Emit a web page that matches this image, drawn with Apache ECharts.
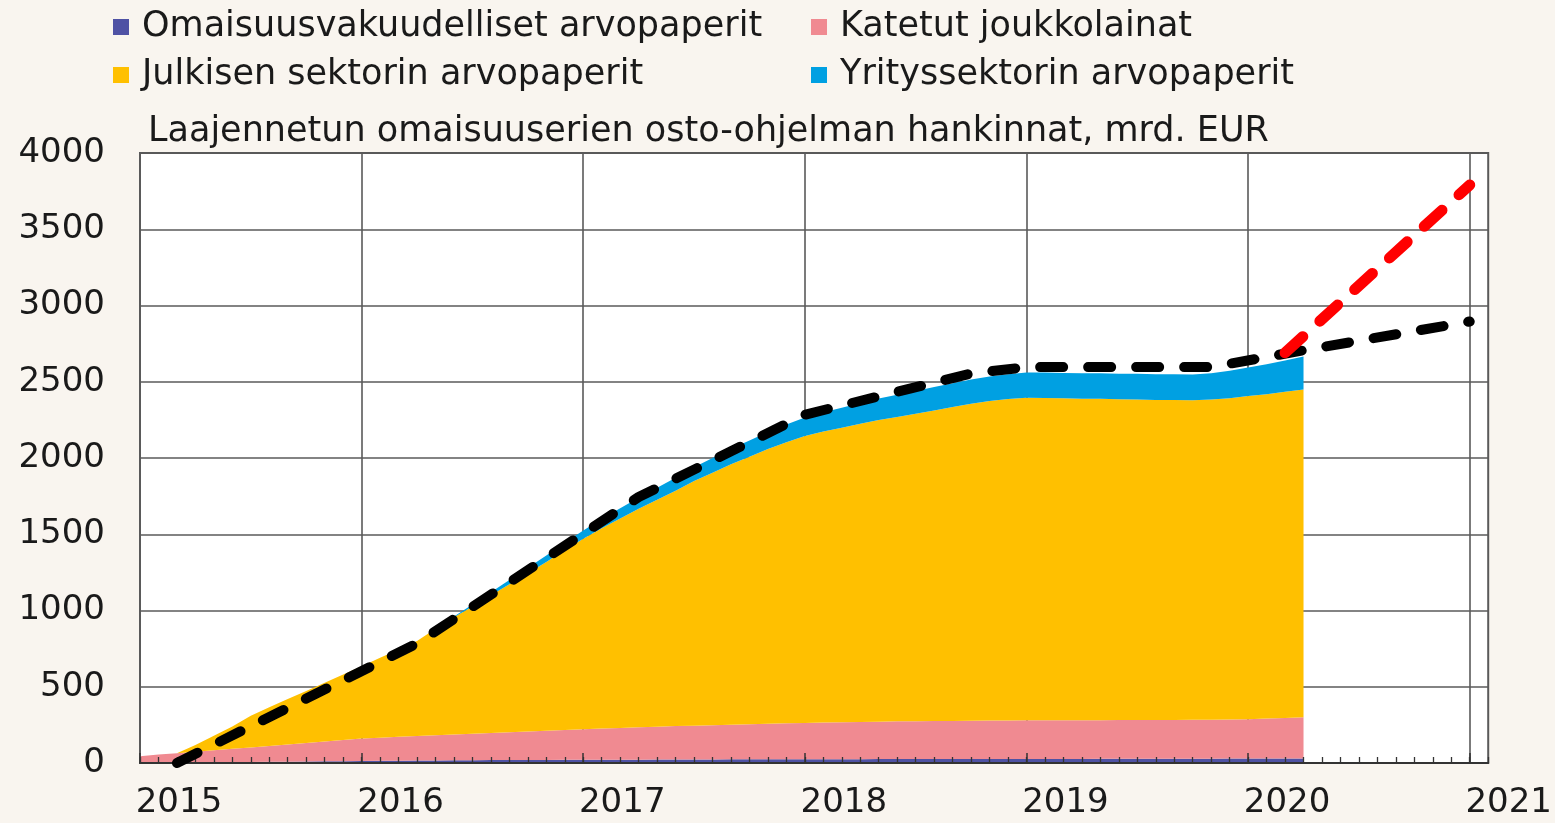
<!DOCTYPE html>
<html><head><meta charset="utf-8">
<script src="https://cdn.jsdelivr.net/npm/echarts@6/dist/echarts.min.js"></script>
<style>html,body{margin:0;padding:0;background:#f9f5ef;}#c{width:1555px;height:823px;}</style>
</head><body><div id="c"></div><script>
// Monthly observation dates (Jan 2015 – Apr 2020)
const months = [
 '2015-01','2015-02','2015-03','2015-04','2015-05','2015-06','2015-07','2015-08','2015-09','2015-10','2015-11','2015-12',
 '2016-01','2016-02','2016-03','2016-04','2016-05','2016-06','2016-07','2016-08','2016-09','2016-10','2016-11','2016-12',
 '2017-01','2017-02','2017-03','2017-04','2017-05','2017-06','2017-07','2017-08','2017-09','2017-10','2017-11','2017-12',
 '2018-01','2018-02','2018-03','2018-04','2018-05','2018-06','2018-07','2018-08','2018-09','2018-10','2018-11','2018-12',
 '2019-01','2019-02','2019-03','2019-04','2019-05','2019-06','2019-07','2019-08','2019-09','2019-10','2019-11','2019-12',
 '2020-01','2020-02','2020-03','2020-04'];
// Remaining axis months up to the right edge of the plot
const extraMonths = ['2020-05','2020-06','2020-07','2020-08','2020-09','2020-10','2020-11','2020-12','2021-01','2021-02'];
// Omaisuusvakuudelliset arvopaperit (ABS)
const absValues = [1,2,3,4,5,6,7,8,9,10,11,12,13,14,15,16,17,18,18,19,19,20,20,21,21,22,22,22,23,23,23,23,24,24,24,24,25,25,25,25,26,26,26,26,26,27,27,27,27,27,27,27,28,28,28,28,28,28,28,29,29,29,30,30];
// Katetut joukkolainat (covered bonds)
const coveredValues = [44,53,61,70,79,87,95,104,113,121,130,139,147,152,157,161,165,169,174,178,183,187,192,196,201,204,208,212,215,219,222,225,227,230,233,236,238,240,242,244,245,247,248,249,250,250,251,252,253,253,254,254,253,254,254,254,254,255,256,256,258,262,265,270];
// Julkisen sektorin arvopaperit (public sector)
const publicValues = [0,0,0,44,94,147,208,253,298,341,386,429,475,524,573,623,698,768,835,903,970,1038,1106,1180,1249,1314,1374,1434,1489,1544,1605,1656,1708,1755,1802,1844,1882,1909,1932,1955,1978,1996,2016,2037,2058,2079,2096,2108,2115,2114,2111,2108,2107,2103,2102,2099,2098,2095,2099,2107,2119,2127,2139,2150];
// Yrityssektorin arvopaperit (corporate sector)
const corporateValues = [0,0,0,0,0,0,0,0,0,0,0,0,0,0,0,0,0,5,13,20,28,35,42,48,54,60,66,72,78,84,90,96,101,106,111,116,120,126,131,136,141,146,150,153,156,159,161,163,165,166,166,167,167,168,168,169,169,170,173,180,188,197,206,215];
// Planned cumulative purchases (black dashed)
const plannedDates = ['2015-03','2016-04','2017-04','2018-01','2018-10','2019-01','2019-11','2020-04','2021-01'];
const plannedValues = [0,784,1744,2284,2554,2596,2596,2706,2895];
// Pandemic programme path (red dashed)
const pepDates = ['2020-03','2021-01'];
const pepValues = [2690,3790];
const yearLabels = ['2015','2016','2017','2018','2019','2020','2021'];
const seriesNames = ['Omaisuusvakuudelliset arvopaperit','Katetut joukkolainat','Julkisen sektorin arvopaperit','Yrityssektorin arvopaperit'];
const titleText = 'Laajennetun omaisuuserien osto-ohjelman hankinnat, mrd. EUR';

const axisMonths = months.concat(extraMonths);
const FONT = 'DejaVu Sans';
const TXT = '#1a1a1a';
const GRIDC = '#5a5a5a';
const isYearStart = (idx) => idx % 12 === 0;

function area(name, values, color){
  return {
    name, type:'line', stack:'app', xAxisIndex:0, yAxisIndex:0,
    symbol:'none', showSymbol:false, lineStyle:{width:0}, z:2,
    areaStyle:{color, opacity:1}, itemStyle:{color},
    data: values.slice()
  };
}
function dashed(dates, values, color, width, pattern, z){
  return {
    type:'line', xAxisIndex:0, yAxisIndex:0, symbol:'none', showSymbol:false, z,
    lineStyle:{color, width, type:pattern, cap:'round', join:'round'},
    data: dates.map((d,i)=>[d, values[i]])
  };
}

const chart = echarts.init(document.getElementById('c'), null, {renderer:'canvas'});
const legendText = {fontFamily:FONT, fontSize:35, color:TXT, lineHeight:36, padding:[0,0,0,8]};
chart.setOption({
  backgroundColor:'#f9f5ef',
  animation:false,
  title:{text:titleText, left:148, top:114, padding:0,
    textStyle:{fontFamily:FONT, fontSize:35, fontWeight:'normal', color:TXT, lineHeight:36}},
  legend:[
    {data:[seriesNames[0], seriesNames[2]], orient:'vertical', left:108, top:4, icon:'rect',
     itemWidth:16, itemHeight:16, itemGap:12, textStyle:legendText, selectedMode:false},
    {data:[seriesNames[1], seriesNames[3]], orient:'vertical', left:806, top:4, icon:'rect',
     itemWidth:16, itemHeight:16, itemGap:12, textStyle:legendText, selectedMode:false}
  ],
  grid:{left:140, right:65, top:153, bottom:58, show:true, backgroundColor:'#ffffff',
    borderColor:GRIDC, borderWidth:2, containLabel:false},
  xAxis:[
    {type:'category', data:axisMonths, boundaryGap:false, position:'bottom', z:0,
     axisLine:{show:false}, axisTick:{show:false},
     splitLine:{show:true, interval:isYearStart, lineStyle:{color:GRIDC, width:1.6}},
     axisLabel:{show:true, interval:isYearStart, margin:20, fontFamily:FONT, fontSize:34, color:TXT, lineHeight:40,
       padding:[0,0,0,78],
       formatter:(v, idx)=> yearLabels[Math.round(idx/12)] }},
    {type:'category', data:axisMonths, boundaryGap:false, position:'bottom', z:5,
     axisLine:{show:true, lineStyle:{color:'#333', width:2}},
     axisTick:{show:true, interval:0, inside:true, length:6, lineStyle:{color:'#333', width:1.3}},
     axisLabel:{show:false}, splitLine:{show:false}},
    {type:'category', data:axisMonths, boundaryGap:false, position:'bottom', z:5,
     axisLine:{show:false},
     axisTick:{show:true, interval:isYearStart, inside:true, length:10, lineStyle:{color:'#333', width:1.5}},
     axisLabel:{show:false}, splitLine:{show:false}}
  ],
  yAxis:[
    {type:'value', min:0, max:4000, interval:500, z:0,
     axisLine:{show:false}, axisTick:{show:false},
     splitLine:{show:true, lineStyle:{color:GRIDC, width:1.6}},
     axisLabel:{margin:35, fontFamily:FONT, fontSize:34, color:TXT, formatter:v=>String(v)}},
    {type:'value', min:0, max:4000, interval:500, position:'left', z:5,
     axisLine:{show:true, lineStyle:{color:GRIDC, width:2}}, axisTick:{show:false},
     axisLabel:{show:false}, splitLine:{show:false}}
  ],
  series:[
    area(seriesNames[0], absValues, '#4f52a4'),
    area(seriesNames[1], coveredValues, '#f08a91'),
    area(seriesNames[2], publicValues, '#ffc000'),
    area(seriesNames[3], corporateValues, '#00a0e2'),
    dashed(plannedDates, plannedValues, '#000000', 10, [23,25], 6),
    dashed(pepDates, pepValues, '#ff0000', 11, [24,23], 7)
  ]
});
</script></body></html>
